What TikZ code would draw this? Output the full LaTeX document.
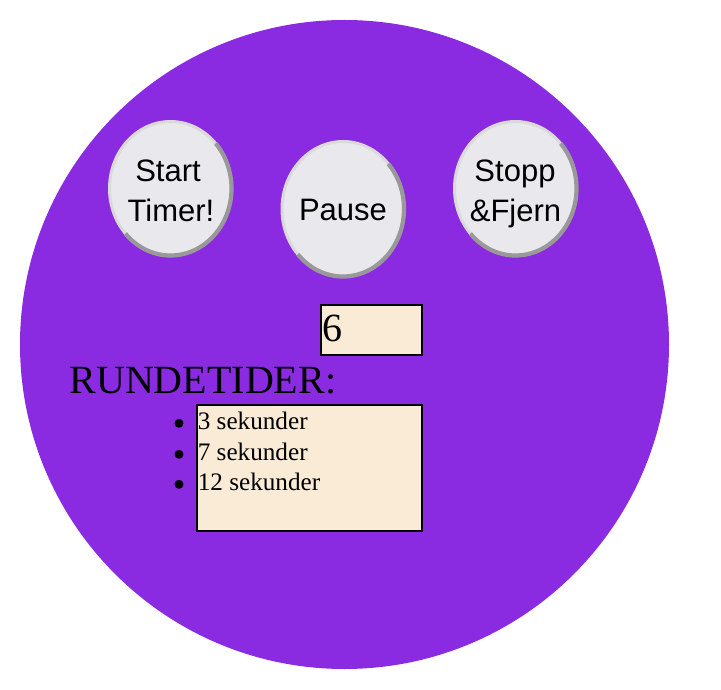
\documentclass[tikz,border=0pt]{standalone}
\usepackage{fontspec}
\setmainfont{Liberation Serif}
\newfontfamily\btnfont{Liberation Sans}
\usetikzlibrary{shapes.geometric}
\definecolor{bgpurple}{HTML}{8A2BE2}
\definecolor{btnfill}{HTML}{E9E9ED}
\definecolor{btnlight}{HTML}{DADADA}
\definecolor{btndark}{HTML}{999999}
\definecolor{boxfill}{HTML}{FAEBD7}
\tikzset{
  btnshape/.style={ellipse, fill=btnfill, draw=btnlight, line width=3pt,
    minimum width=122pt, minimum height=134pt, inner sep=0pt},
  btntext/.style={anchor=base, inner sep=0pt, text=black,
    font=\btnfont\fontsize{31}{38}\selectfont},
  inbox/.style={draw=black, line width=2pt, fill=boxfill, inner sep=0pt, rectangle},
  bigtext/.style={anchor=base west, inner sep=0pt, font=\fontsize{40}{46}\selectfont},
  itemtext/.style={anchor=base west, inner sep=0pt, font=\fontsize{25.2}{30}\selectfont},
  bulletdot/.style={fill=black}
}
\newcommand{\darkrim}[3]{%
  \begin{scope}
    \clip (#1.center) ++(-110,110) -- ++(220,0) -- ++(0,-220) -- cycle;
    \draw[btndark, line width=4.2pt] (#1.center) ellipse[x radius=#2, y radius=#3];
  \end{scope}}
\begin{document}
\begin{tikzpicture}[x=1pt,y=-1pt]
\useasboundingbox (0,0) rectangle (721,690);
\fill[bgpurple] (344.5,344.5) circle[radius=324.5];

% buttons
\node[btnshape] (startbtn) at (170.5,188.5) {};
\darkrim{startbtn}{61}{67}
\node[btntext] (startA) at (168,182) {Start};
\node[btntext] (startB) at (171,222) {Timer!};

\node[btnshape, minimum height=135pt] (pausebtn) at (343,209) {};
\darkrim{pausebtn}{61}{67.5}
\node[btntext] (pauseA) at (343,221) {Pause};

\node[btnshape] (stoppbtn) at (515.5,188.5) {};
\darkrim{stoppbtn}{61}{67}
\node[btntext] (stoppA) at (515,182) {Stopp};
\node[btntext] (stoppB) at (515.5,222) {\&Fjern};

% number box
\node[inbox, minimum width=101pt, minimum height=50pt] (numbox) at (371.5,330) {};
\node[bigtext] (numtext) at (322,341) {6};

% title
\node[bigtext] (title) at (69.3,393) {RUNDETIDER:};

% list box
\node[inbox, minimum width=225.5pt, minimum height=126pt] (listbox) at (309.25,468) {};
\node[itemtext] (itemA) at (197.6,429) {3 sekunder};
\node[itemtext] (itemB) at (197.6,460) {7 sekunder};
\node[itemtext] (itemC) at (197.6,490) {12 sekunder};
\fill[bulletdot] (179,423.3) circle[radius=4.5];
\fill[bulletdot] (179,454.3) circle[radius=4.5];
\fill[bulletdot] (179,484.3) circle[radius=4.5];
\end{tikzpicture}
\end{document}
